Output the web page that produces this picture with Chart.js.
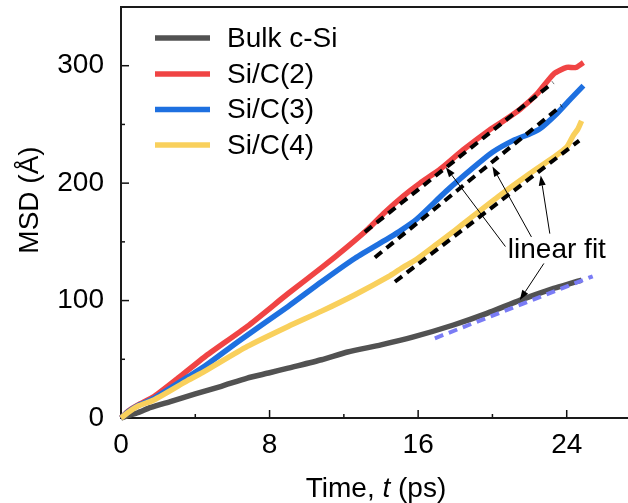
<!DOCTYPE html>
<html><head><meta charset="utf-8">
<script src="https://cdn.jsdelivr.net/npm/chart.js@4.4.0/dist/chart.umd.min.js"></script>
<style>html,body{margin:0;padding:0;background:#fff;overflow:hidden}#wrap{width:628px;height:503px;position:relative}</style>
</head><body><div id="wrap"><canvas id="c" width="628" height="503"></canvas></div>
<script>
// ---- data ----
const seriesNames = ['Bulk c-Si', 'Si/C(2)', 'Si/C(3)', 'Si/C(4)'];
const seriesColors = ['#525252', '#f04444', '#1e70e0', '#f9d05c'];

const tBulk = [0, 0.4, 0.9, 1.6, 2.7, 4.0, 5.4, 6.8, 8.0, 9.0, 10.8, 12.2, 14.0, 15.7, 17.9, 19.7, 21.5, 23.3, 24.0, 24.8];
const msdBulk = [0, 2.2, 4.5, 9, 14.2, 20.5, 27, 34, 38.5, 42.5, 49.6, 56.2, 62.3, 68.8, 79.2, 89.1, 100.4, 110.4, 113.5, 117.5];

const tSiC2 = [0, 0.4, 0.9, 1.8, 3.0, 4.5, 6.8, 9.0, 10.8, 12.2, 13.3, 14.2, 15.2, 16.1, 17.2, 18.4, 19.9, 20.6, 21.5, 22.4, 23.3, 24.0, 24.5, 24.9];
const msdSiC2 = [0, 6, 11, 18.5, 33, 52, 78, 106, 128, 146, 161, 175, 189, 200, 212, 228, 246, 253, 263, 276, 293, 298.5, 298.5, 302.7];

const tSiC3 = [0, 0.4, 0.9, 1.8, 3.6, 4.5, 6.3, 9.0, 10.8, 12.6, 14.5, 15.1, 15.9, 17.5, 19.0, 20.0, 21.1, 22.0, 22.55, 23.45, 24.2, 24.9];
const msdSiC3 = [0, 5.5, 10.5, 17, 35, 44, 65, 95, 116, 136, 154, 160, 169, 193, 213.6, 226.3, 236.2, 241.9, 246.2, 258.9, 271.6, 283];

const tSiC4 = [0, 0.4, 0.9, 1.8, 3.6, 4.5, 6.8, 9.0, 10.8, 12.6, 14.4, 15.1, 15.9, 17.0, 18.0, 18.8, 20.4, 22.0, 23.3, 24.0, 24.35, 24.6, 24.8];
const msdSiC4 = [0, 5, 10, 15.6, 32, 39.7, 61, 78, 91, 105, 120.4, 127.5, 135, 148, 160, 170, 189.6, 208, 222, 230.6, 240.5, 246, 253];

// linear fit segments (end points)
const fitSiC2T = [13.13, 23.27], fitSiC2Y = [158.4, 285.7];
const fitSiC3T = [13.67, 23.72], fitSiC3Y = [136.7, 266.0];
const fitSiC4T = [14.75, 24.67], fitSiC4Y = [116.0, 236.2];
const fitBulkT = [16.9, 25.4],   fitBulkY = [67.9, 120.7];

// annotation: "linear fit" label + arrows (tail -> head), data coordinates
const fitLabel = 'linear fit';
const fitLabelPos = [23.47, 143.7];
const arrowTailT = [20.7, 22.1, 23.09, 22.77];
const arrowTailY = [146.0, 154.2, 157.0, 131.6];
const arrowHeadT = [17.49, 20.0, 22.6, 21.47];
const arrowHeadY = [213.6, 214.2, 206.5, 100.4];

const xTicksMajor = [0, 8, 16, 24];
const yTicksMajor = [0, 100, 200, 300];

const FONT = "'Liberation Sans', Arial, sans-serif";
const FS = 28;

function pts(t, y) { return t.map((v, i) => ({x: v, y: y[i]})); }

const mainSets = [
  {t: tBulk, y: msdBulk}, {t: tSiC2, y: msdSiC2}, {t: tSiC3, y: msdSiC3}, {t: tSiC4, y: msdSiC4}
].map((s, i) => ({
  label: seriesNames[i],
  data: pts(s.t, s.y),
  borderColor: seriesColors[i],
  backgroundColor: seriesColors[i],
  borderWidth: 5.5,
  pointRadius: 0,
  tension: 0.2,
  borderCapStyle: 'butt',
  borderJoinStyle: 'round',
  clip: false,
  order: [5, 4, 3, 2][i]
}));

const fitSets = [
  {t: fitSiC2T, y: fitSiC2Y, c: '#000000'},
  {t: fitSiC3T, y: fitSiC3Y, c: '#000000'},
  {t: fitSiC4T, y: fitSiC4Y, c: '#000000'},
  {t: fitBulkT, y: fitBulkY, c: '#7a7cf5'}
].map(s => ({
  label: 'fit',
  data: pts(s.t, s.y),
  borderColor: s.c,
  borderWidth: 4,
  borderDash: [9, 6],
  pointRadius: 0,
  tension: 0,
  clip: false,
  order: 0
}));

const framePlugin = {
  id: 'frame',
  beforeDatasetsDraw(chart) {
    const {ctx, chartArea: a, scales: {x, y}} = chart;
    ctx.save();
    ctx.strokeStyle = '#111';
    ctx.lineWidth = 1.5;
    for (let v = 0; v <= 27; v += 4) {
      const px = x.getPixelForValue(v);
      const len = (v % 8 === 0) ? 8 : 4;
      ctx.beginPath(); ctx.moveTo(px, a.bottom); ctx.lineTo(px, a.bottom - len); ctx.stroke();
    }
    for (let v = 0; v <= 340; v += 50) {
      const py = y.getPixelForValue(v);
      const len = (v % 100 === 0) ? 8 : 4;
      ctx.beginPath(); ctx.moveTo(a.left, py); ctx.lineTo(a.left + len, py); ctx.stroke();
    }
    ctx.lineWidth = 2;
    ctx.strokeStyle = '#1a1a1a';
    ctx.beginPath();
    ctx.moveTo(a.right + 2, a.top); ctx.lineTo(a.left, a.top);
    ctx.lineTo(a.left, a.bottom); ctx.lineTo(a.right + 2, a.bottom);
    ctx.stroke();
    ctx.restore();
  },
  afterDraw(chart) {
    const {ctx, scales: {x, y}} = chart;
    ctx.save();
    // legend
    const rows = [38, 74, 109.5, 145];
    seriesNames.forEach((n, i) => {
      ctx.strokeStyle = seriesColors[i];
      ctx.lineWidth = 5.5;
      ctx.beginPath(); ctx.moveTo(155, rows[i]); ctx.lineTo(210, rows[i]); ctx.stroke();
      ctx.fillStyle = '#000';
      ctx.font = FS + 'px ' + FONT;
      ctx.textBaseline = 'middle';
      ctx.textAlign = 'left';
      ctx.fillText(n, 227, rows[i] + 1);
    });
    // arrows
    ctx.strokeStyle = '#000'; ctx.fillStyle = '#000'; ctx.lineWidth = 1;
    arrowTailT.forEach((t, i) => {
      const x0 = x.getPixelForValue(t), y0 = y.getPixelForValue(arrowTailY[i]);
      const x1 = x.getPixelForValue(arrowHeadT[i]), y1 = y.getPixelForValue(arrowHeadY[i]);
      const ang = Math.atan2(y1 - y0, x1 - x0);
      const L = 10, W = 3.5;
      const bx = x1 - L * Math.cos(ang), by = y1 - L * Math.sin(ang);
      ctx.beginPath(); ctx.moveTo(x0, y0); ctx.lineTo(bx, by); ctx.stroke();
      ctx.beginPath();
      ctx.moveTo(x1, y1);
      ctx.lineTo(bx + W * Math.sin(ang), by - W * Math.cos(ang));
      ctx.lineTo(bx - W * Math.sin(ang), by + W * Math.cos(ang));
      ctx.closePath(); ctx.fill();
    });
    // label
    ctx.font = FS + 'px ' + FONT;
    ctx.textAlign = 'center'; ctx.textBaseline = 'middle';
    ctx.fillText(fitLabel, x.getPixelForValue(fitLabelPos[0]), y.getPixelForValue(fitLabelPos[1]) + 1);
    // y title
    ctx.save();
    ctx.translate(30, 200);
    ctx.rotate(-Math.PI / 2);
    ctx.fillText('MSD (Å)', 0, 0);
    ctx.restore();
    // x title with italic t
    const p1 = 'Time, ', p2 = 't', p3 = ' (ps)';
    ctx.font = FS + 'px ' + FONT;
    const w1 = ctx.measureText(p1).width, w3 = ctx.measureText(p3).width;
    ctx.font = 'italic ' + FS + 'px ' + FONT;
    const w2 = ctx.measureText(p2).width;
    const total = w1 + w2 + w3;
    let sx = 376 - total / 2;
    const by = 497;
    ctx.textAlign = 'left'; ctx.textBaseline = 'alphabetic';
    ctx.font = FS + 'px ' + FONT; ctx.fillText(p1, sx, by); sx += w1;
    ctx.font = 'italic ' + FS + 'px ' + FONT; ctx.fillText(p2, sx, by); sx += w2;
    ctx.font = FS + 'px ' + FONT; ctx.fillText(p3, sx, by);
    ctx.restore();
  }
};

new Chart(document.getElementById('c'), {
  type: 'line',
  data: {datasets: [...mainSets, ...fitSets]},
  options: {
    responsive: false,
    devicePixelRatio: 1,
    animation: false,
    layout: {padding: {top: 7, left: 0, right: 0, bottom: 0}},
    plugins: {legend: {display: false}, tooltip: {enabled: false}, title: {display: false}},
    scales: {
      x: {
        type: 'linear', min: 0, max: 27.3,
        grid: {display: false}, border: {display: false},
        ticks: {
          stepSize: 4, includeBounds: false, autoSkip: false, maxRotation: 0,
          color: '#000', font: {family: FONT, size: FS}, padding: 2,
          callback: v => xTicksMajor.includes(v) ? String(v) : ''
        },
        afterFit: s => { s.height = 85; s.paddingLeft = 0; s.paddingRight = 0; }
      },
      y: {
        type: 'linear', min: 0, max: 350,
        grid: {display: false}, border: {display: false},
        ticks: {
          stepSize: 50, includeBounds: false, autoSkip: false,
          color: '#000', font: {family: FONT, size: FS}, padding: 9,
          callback: v => yTicksMajor.includes(v) ? String(v) : ''
        },
        afterFit: s => { s.width = 121; s.paddingTop = 0; s.paddingBottom = 0; }
      }
    }
  },
  plugins: [framePlugin]
});
</script></body></html>
